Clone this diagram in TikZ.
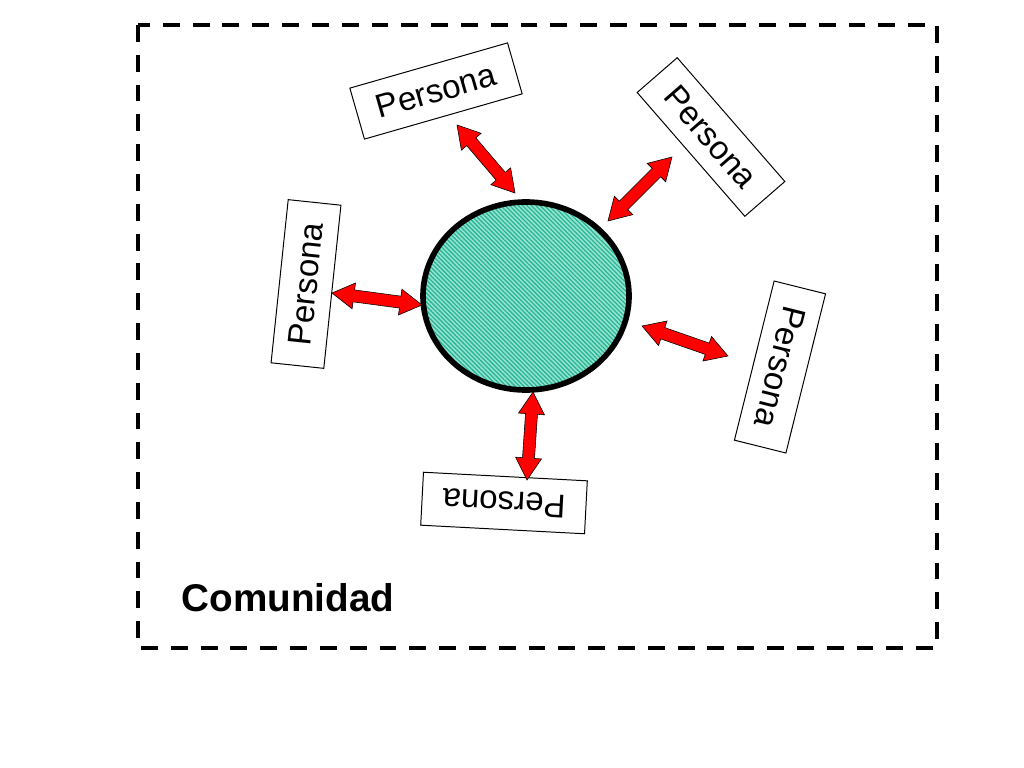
\documentclass[tikz,border=0pt]{standalone}
\usepackage{fontspec}
\setmainfont{Liberation Sans}
\usetikzlibrary{calc,shapes.geometric,patterns.meta}

\definecolor{tealpale}{RGB}{150,228,208}
\definecolor{tealdark}{RGB}{40,180,150}

% double headed fat arrow from #1 to #2
\newcommand{\twoway}[2]{%
    \filldraw[fatarrow] (#1) -- ($(#1)!0.639cm!30.58:(#2)$) -- ($(#1)!0.570cm!15.26:(#2)$)
        -- ($(#2)!0.570cm!-15.26:(#1)$) -- ($(#2)!0.639cm!-30.58:(#1)$) -- (#2)
        -- ($(#2)!0.639cm!30.58:(#1)$) -- ($(#2)!0.570cm!15.26:(#1)$)
        -- ($(#1)!0.570cm!-15.26:(#2)$) -- ($(#1)!0.639cm!-30.58:(#2)$) -- cycle;}

\tikzset{
    persona/.style={draw, line width=0.7pt, fill=white, inner sep=0pt,
        minimum width=4.1cm, minimum height=1.325cm, font=\fontsize{23.5}{24}\selectfont},
    fatarrow/.style={fill=red, draw=black, line width=0.4pt, line join=miter},
}

\begin{document}
\begin{tikzpicture}[x=0.025cm, y=-0.025cm]
        \useasboundingbox (0,0) rectangle (1024,768);

        % Frame
        \draw[line width=2.8pt, dash pattern=on 12pt off 9.2pt] (138,25) rectangle (937,648);
        \node[font=\bfseries\fontsize{27.5}{28}\selectfont, anchor=base] (comunidad) at (288,611) {Comunidad};

        % Centre
        \node[ellipse, draw, line width=4pt, minimum width=5.15cm, minimum height=4.7cm,
            preaction={fill=tealpale},
            preaction={pattern={Lines[angle=-45, distance=2.2pt, line width=0.9pt]}, pattern color=tealdark}] (centro) at (526,296) {};

        % Personas
        \node[persona, rotate=16] (p1) at (436,91) {Persona};
        \node[persona, rotate=-49] (p2) at (711,137) {Persona};
        \node[persona, rotate=84] (p3) at (306,284) {Persona};
        \node[persona, rotate=-104] (p4) at (780,367) {Persona};
        \node[persona, rotate=177] (p5) at (504,503) {Persona};

        % Arrows
        \coordinate (a1o) at (457,125); \coordinate (a1i) at (515,193);
        \coordinate (a2o) at (672,157); \coordinate (a2i) at (608,221);
        \coordinate (a3o) at (332,293); \coordinate (a3i) at (422,305);
        \coordinate (a4o) at (728,356); \coordinate (a4i) at (642,326);
        \coordinate (a5o) at (527,480); \coordinate (a5i) at (533,392);
        \foreach \k in {1,...,5} \twoway{a\k i}{a\k o};
    \end{tikzpicture}
\end{document}
